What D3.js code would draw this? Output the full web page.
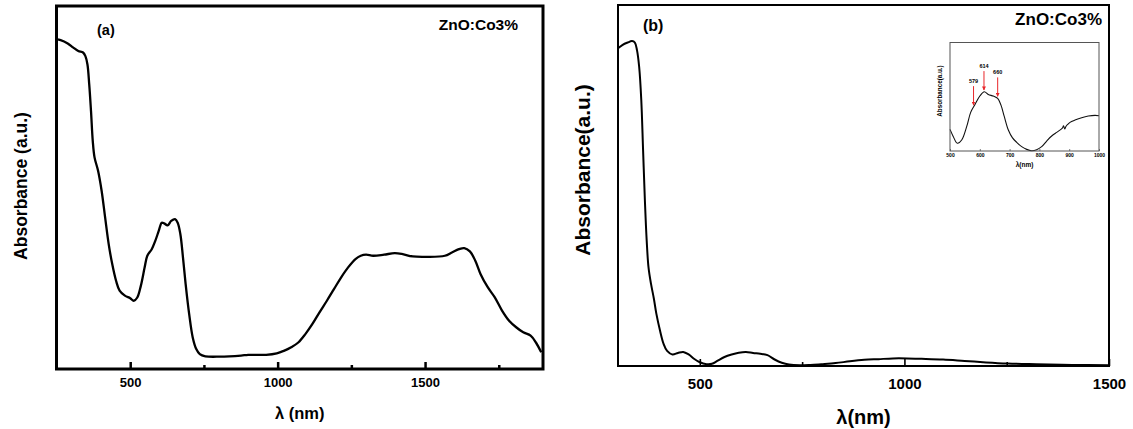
<!DOCTYPE html>
<html><head><meta charset="utf-8">
<script src="https://cdn.jsdelivr.net/npm/d3@7"></script>
<style>
body{margin:0;background:#fff}
svg{display:block}
text{font-family:"Liberation Sans",Arial,Helvetica,sans-serif;font-weight:bold;fill:#000}
</style>
</head><body>
<svg id="c" width="1133" height="429"></svg>
<script>
// ---------- DATA ----------
// Panel (a): ZnO:Co3% absorbance, 250-1900 nm
const aWavelength = [250,264,288,306,324,340,348,355,361,367,373,379,391,403,415,427,439,452,464,482,500,512,524,536,549,558,573,585,597,607,615,627,639,652,661,670,679,688,700,712,724,736,755,803,876,900,961,997,1021,1046,1070,1094,1118,1142,1167,1191,1215,1239,1264,1282,1300,1324,1361,1397,1421,1458,1506,1567,1591,1615,1633,1652,1670,1688,1712,1736,1761,1785,1809,1833,1858,1876,1894];
const aAbsorbance = [0.908,0.906,0.897,0.886,0.876,0.872,0.862,0.839,0.784,0.711,0.628,0.583,0.546,0.491,0.417,0.344,0.289,0.243,0.216,0.202,0.195,0.188,0.197,0.229,0.280,0.312,0.330,0.353,0.381,0.403,0.401,0.396,0.408,0.413,0.403,0.372,0.307,0.234,0.151,0.087,0.055,0.041,0.035,0.034,0.037,0.039,0.039,0.043,0.050,0.060,0.073,0.096,0.124,0.156,0.188,0.220,0.252,0.280,0.303,0.312,0.315,0.312,0.315,0.319,0.317,0.310,0.309,0.312,0.321,0.330,0.333,0.324,0.299,0.262,0.226,0.198,0.161,0.133,0.115,0.101,0.092,0.073,0.046];
const aXTicks = [500,1000,1500];
const aXMinor = [750,1250,1750];

// Panel (b): ZnO:Co3% absorbance, 300-1500 nm
const bWavelength = [300,310.5,323.6,334.2,341.2,346.4,351.7,356.9,361.3,365.7,370.1,374.5,380.6,387.6,393.7,402.5,411.2,420,433.1,446.3,459.4,472.6,485.7,498.8,516.4,529.5,542.6,560.2,577.7,595.2,612.7,630.2,647.7,665.3,682.8,700.3,717.8,744.1,770.4,796.7,831.7,866.7,901.8,936.8,971.8,1006.9,1041.9,1094.5,1147,1199.6,1252.1,1322.2,1409.8,1500];
const bAbsorbance = [0.880,0.889,0.896,0.900,0.896,0.875,0.829,0.737,0.598,0.459,0.348,0.274,0.228,0.187,0.145,0.099,0.062,0.042,0.032,0.036,0.039,0.032,0.020,0.011,0.005,0.006,0.014,0.025,0.032,0.037,0.039,0.036,0.034,0.030,0.018,0.009,0.004,0.002,0.003,0.005,0.008,0.013,0.017,0.019,0.021,0.021,0.020,0.018,0.014,0.010,0.007,0.005,0.003,0.002];
const bXTicks = [500,1000,1500];
const bXMinor = [750,1250];

// Inset of (b): 500-1000 nm
const insetWavelength = [500,511.2,524.6,539.2,555.9,569.4,583.9,600.7,615.2,628.6,645.4,660,671.1,682.3,695.8,709.2,723.7,740.5,757.3,774.1,790.8,807.6,824.4,841.2,858,870,877,881,885,889,895,902.7,919.5,941.8,964.2,986.6,1000];
const insetAbsorbance = [0.199,0.132,0.071,0.101,0.224,0.356,0.429,0.509,0.546,0.521,0.506,0.485,0.423,0.316,0.193,0.123,0.080,0.040,0.015,0.003,0.012,0.040,0.092,0.138,0.172,0.195,0.210,0.232,0.203,0.226,0.245,0.264,0.285,0.307,0.322,0.328,0.325];
const insetXTicks = [500,600,700,800,900,1000];
const insetPeaks = [579,614,660];

// ---------- DRAW ----------
const svg = d3.select("#c");
const line = (x, y) => d3.line().x(d => x(d[0])).y(d => y(d[1])).curve(d3.curveCatmullRom.alpha(0.5));

function panel(o) {
  const x = d3.scaleLinear().domain(o.xDomain).range([o.left, o.right]);
  const y = d3.scaleLinear().domain([0, 1]).range([o.bottom, o.top]);
  const g = svg.append("g");
  const clipId = "clip" + o.id;
  g.append("clipPath").attr("id", clipId).append("rect")
    .attr("x", o.left).attr("y", o.top).attr("width", o.right - o.left).attr("height", o.bottom - o.top);
  const pts = o.xs.map((v, i) => [v, o.ys[i]]);
  g.append("path").attr("clip-path", `url(#${clipId})`).attr("d", line(x, y)(pts))
    .attr("fill", "none").attr("stroke", "#000").attr("stroke-width", o.lineW).attr("stroke-linejoin", "round");
  // minor ticks
  const minor = g.append("g").attr("transform", `translate(0,${o.bottom})`)
    .call(d3.axisBottom(x).tickValues(o.minor).tickSize(-o.minorLen).tickFormat(""));
  minor.select(".domain").remove();
  minor.selectAll("line").attr("stroke-width", o.tickW);
  const major = g.append("g").attr("transform", `translate(0,${o.bottom})`)
    .call(d3.axisBottom(x).tickValues(o.ticks).tickSize(-o.majorLen).tickPadding(o.pad).tickFormat(d3.format("d")));
  major.select(".domain").remove();
  major.selectAll("line").attr("stroke-width", o.tickW);
  major.selectAll("text").attr("font-size", o.tickFs).attr("font-family", '"Liberation Sans",Arial,sans-serif').attr("font-weight", "bold").attr("fill", "#000");
  // frame
  g.append("rect").attr("x", o.left).attr("y", o.top).attr("width", o.right - o.left).attr("height", o.bottom - o.top)
    .attr("fill", "none").attr("stroke", "#000").attr("stroke-width", o.frameW);
  // titles
  g.append("text").attr("x", (o.left + o.right) / 2).attr("y", o.xTitleY).attr("text-anchor", "middle")
    .attr("font-size", o.xTitleFs).text(o.xTitle);
  g.append("text").attr("transform", `translate(${o.yTitleX},${o.yTitleY}) rotate(-90)`).attr("text-anchor", "middle")
    .attr("font-size", o.yTitleFs).text(o.yTitle);
  g.append("text").attr("x", o.tagX).attr("y", o.tagY).attr("font-size", o.tagFs).text(o.tag);
  g.append("text").attr("x", o.right - o.sampleRight).attr("y", o.sampleY).attr("text-anchor", "end")
    .attr("font-size", o.sampleFs).text("ZnO:Co3%");
  return {x, y, g};
}

panel({id: "a", xDomain: [250, 1900], left: 56.5, right: 543, top: 6, bottom: 369,
  xs: aWavelength, ys: aAbsorbance, lineW: 2.3, frameW: 3, tickW: 2.5,
  ticks: aXTicks, minor: aXMinor, majorLen: 7, minorLen: 4, pad: 9, tickFs: 13,
  xTitle: "λ (nm)", xTitleY: 419, xTitleFs: 16.5,
  yTitle: "Absorbance (a.u.)", yTitleX: 27, yTitleY: 186, yTitleFs: 17.5,
  tag: "(a)", tagX: 97, tagY: 35, tagFs: 14.5, sampleRight: 25, sampleY: 30, sampleFs: 15.5});

panel({id: "b", xDomain: [300, 1500], left: 618, right: 1109, top: 5, bottom: 366,
  xs: bWavelength, ys: bAbsorbance, lineW: 2, frameW: 2, tickW: 1.6,
  ticks: bXTicks, minor: bXMinor, majorLen: 7, minorLen: 4, pad: 12.5, tickFs: 15,
  xTitle: "λ(nm)", xTitleY: 424, xTitleFs: 20,
  yTitle: "Absorbance(a.u.)", yTitleX: 590, yTitleY: 170, yTitleFs: 21,
  tag: "(b)", tagX: 643, tagY: 31, tagFs: 16, sampleRight: 7, sampleY: 25, sampleFs: 17});

// ---------- INSET ----------
(function () {
  const L = 950, R = 1099, T = 42.5, B = 151;
  const x = d3.scaleLinear().domain([500, 1000]).range([L, R]);
  const y = d3.scaleLinear().domain([0, 1]).range([B, T]);
  const g = svg.append("g");
  const pts = insetWavelength.map((v, i) => [v, insetAbsorbance[i]]);
  g.append("path").attr("d", line(x, y)(pts)).attr("fill", "none").attr("stroke", "#111").attr("stroke-width", 1.1);
  const ax = g.append("g").attr("transform", `translate(0,${B})`)
    .call(d3.axisBottom(x).tickValues(insetXTicks).tickSize(-2).tickPadding(2.5).tickFormat(d3.format("d")));
  ax.select(".domain").remove();
  ax.selectAll("line").attr("stroke", "#444").attr("stroke-width", 0.7);
  ax.selectAll("text").attr("font-size", 5).attr("font-family", '"Liberation Sans",Arial,sans-serif').attr("font-weight", "bold").attr("fill", "#333");
  g.append("rect").attr("x", L).attr("y", T).attr("width", R - L).attr("height", B - T)
    .attr("fill", "none").attr("stroke", "#555").attr("stroke-width", 1);
  g.append("text").attr("x", (L + R) / 2).attr("y", 167).attr("text-anchor", "middle").attr("font-size", 6.5).attr("fill", "#333").text("λ(nm)");
  g.append("text").attr("transform", `translate(941.5,91) rotate(-90)`).attr("text-anchor", "middle")
    .attr("font-size", 6.3).attr("fill", "#333").text("Absorbance(a.u.)");
  const interp = w => {
    const i = d3.bisectLeft(insetWavelength, w);
    const x0 = insetWavelength[i - 1], x1 = insetWavelength[i];
    const t = (w - x0) / (x1 - x0);
    return insetAbsorbance[i - 1] * (1 - t) + insetAbsorbance[i] * t;
  };
  const defs = svg.append("defs");
  defs.append("marker").attr("id", "arr").attr("viewBox", "0 0 10 10").attr("refX", 9).attr("refY", 5)
    .attr("markerWidth", 4).attr("markerHeight", 4).attr("orient", "auto")
    .append("path").attr("d", "M0,0L10,5L0,10z").attr("fill", "#e8262a");
  insetPeaks.forEach(p => {
    const tip = y(interp(p)) - 2;
    const top = tip - 19;
    g.append("line").attr("x1", x(p)).attr("x2", x(p)).attr("y1", top).attr("y2", tip)
      .attr("stroke", "#e8262a").attr("stroke-width", 1).attr("marker-end", "url(#arr)");
    g.append("text").attr("x", x(p)).attr("y", top - 3).attr("text-anchor", "middle")
      .attr("font-size", 5.5).attr("fill", "#333").text(p);
  });
})();
</script>
</body></html>
